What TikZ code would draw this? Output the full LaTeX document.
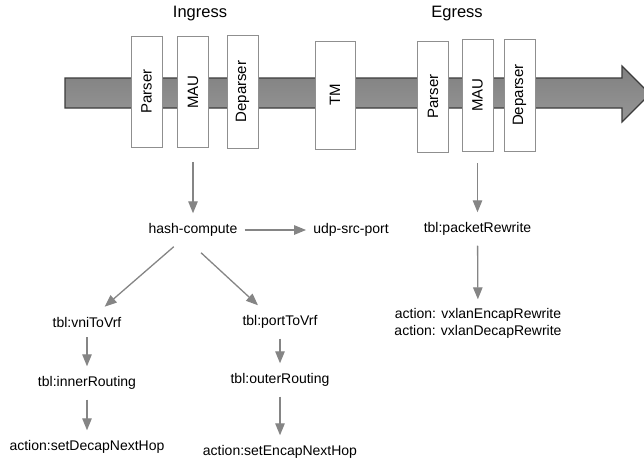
\documentclass[tikz,border=0pt]{standalone}
\usepackage{fontspec}
\setmainfont{Liberation Sans}
\usepackage{xcolor}
\usetikzlibrary{arrows.meta, positioning}

\definecolor{flowgray}{HTML}{858585}
\definecolor{boxgray}{HTML}{8F8F8F}
\definecolor{pipetop}{HTML}{808080}
\definecolor{pipebot}{HTML}{969696}
\definecolor{pipeedge}{HTML}{3C3C3C}

\begin{document}
\begin{tikzpicture}[
        x=1pt, y=-1pt,
        font=\fontsize{14}{17}\selectfont,
        >={Triangle[length=12pt,width=9.5pt]},
        stage/.style={
            draw=boxgray,
            fill=white,
            line width=0.9pt,
            rotate=90,
            inner sep=0pt,
            minimum width=111pt,
            minimum height=31pt,
            font=\fontsize{15}{18}\selectfont
        },
        title/.style={font=\fontsize{16.5}{20}\selectfont, inner sep=0pt},
        lbl/.style={inner xsep=7pt, inner ysep=10pt, align=center},
        flow/.style={->, draw=flowgray, color=flowgray, line width=1.3pt}
    ]

        \useasboundingbox (0,0) rectangle (644,461);

        % pipeline arrow
        \shade[top color=pipetop, bottom color=pipebot, draw=pipeedge, line width=1.1pt]
            (65,78) -- (622,78) -- (622,66) -- (650,94) -- (622,122) -- (622,108) -- (65,108) -- cycle;

        \node[title] (ingress) at (200, 14) {Ingress};
        \node[title] (egress)  at (457, 14) {Egress};

        \node[stage] (iparser)   at (146.5, 91.5) {Parser};
        \node[stage] (imau)      at (193, 92)     {MAU};
        \node[stage, minimum width=113pt] (ideparser) at (242.5, 91.5) {Deparser};
        \node[stage, minimum width=108pt, minimum height=40pt] (tm) at (335, 95) {TM};
        \node[stage] (eparser)   at (433, 96.5)   {Parser};
        \node[stage, minimum width=112pt] (emau)      at (477.5, 95)   {MAU};
        \node[stage, minimum width=112pt] (edeparser) at (519.5, 95)   {Deparser};

        % ingress tables
        \node[lbl] (hash)    at (193, 230) {hash-compute};
        \node[lbl] (udp)     at (351, 230) {udp-src-port};
        \node[lbl] (vni)     at (87, 322)  {tbl:vniToVrf};
        \node[lbl] (inner)   at (87, 383)  {tbl:innerRouting};
        \node[lbl] (decap)   at (87, 447)  {action:setDecapNextHop};
        \node[lbl] (port)    at (280, 322) {tbl:portToVrf};
        \node[lbl] (outer)   at (280, 380) {tbl:outerRouting};
        \node[lbl] (encap)   at (280, 452) {action:setEncapNextHop};

        % egress tables
        \node[lbl] (rewrite) at (477.5, 229)   {tbl:packetRewrite};
        \node[lbl, inner ysep=9pt] (vxlan) at (478, 323.5)
            {action: vxlanEncapRewrite\\action: vxlanDecapRewrite};

        \draw[flow, shorten <=14pt] (imau.west) -- (hash.north);
        \draw[flow] (hash) -- (udp);
        \draw[flow] (hash) -- (vni);
        \draw[flow] ([xshift=8pt,yshift=-6pt]hash.south) -- ([xshift=-22pt]port.north);
        \draw[flow] (vni) -- (inner);
        \draw[flow] (inner) -- (decap);
        \draw[flow] (port) -- (outer);
        \draw[flow] (outer) -- (encap);

        \draw[flow, shorten <=12pt] (emau.west) -- (rewrite.north);
        \draw[flow] (rewrite) -- (vxlan);

    \end{tikzpicture}
\end{document}
